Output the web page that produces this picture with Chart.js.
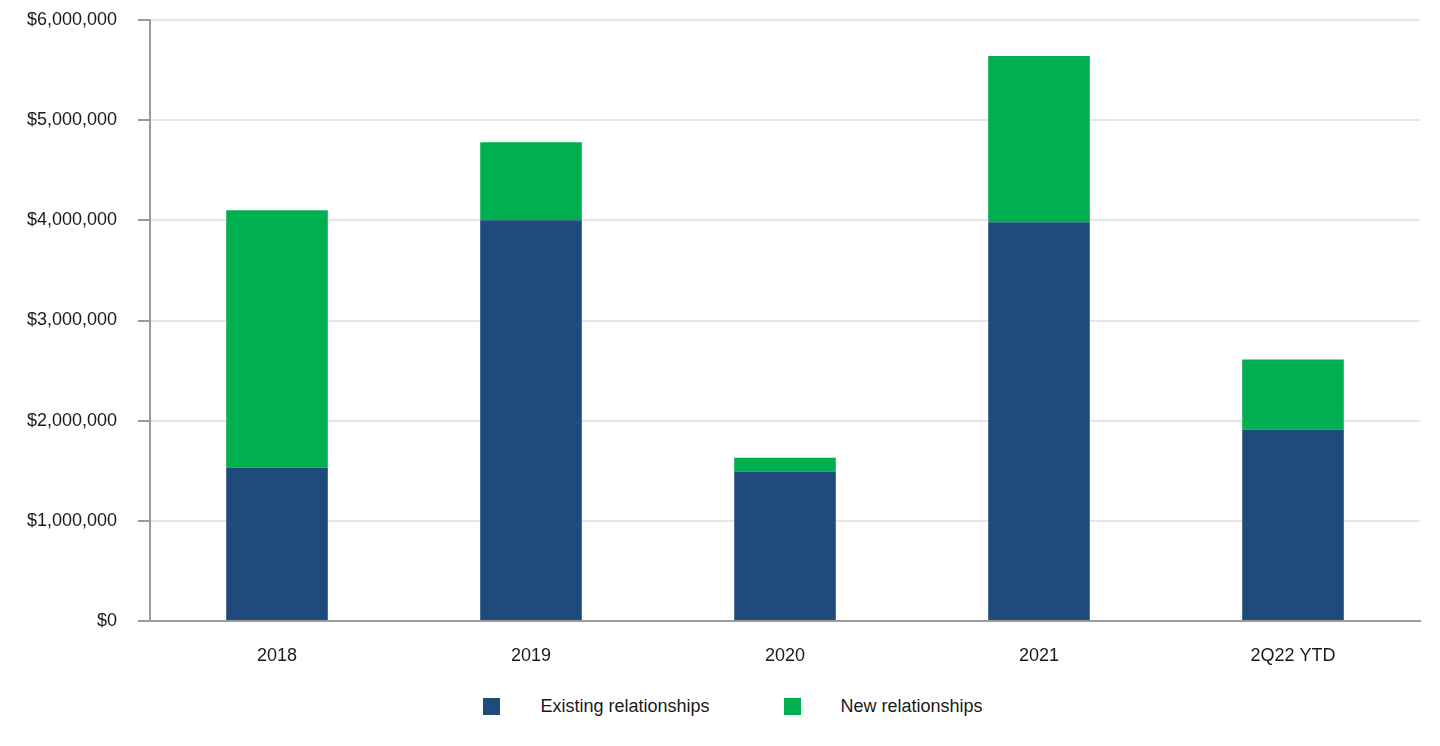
<!DOCTYPE html>
<html>
<head>
<meta charset="utf-8">
<script src="https://cdn.jsdelivr.net/npm/chart.js@4/dist/chart.umd.min.js"></script>
<style>
  body { margin: 0; background: #fff; font-family: "Liberation Sans", Arial, sans-serif; }
  #wrap { position: relative; width: 1440px; height: 746px; }
  #legend { position: absolute; left: 0; top: 696px; width: 1440px; display: flex; justify-content: center; padding-left: 26px; box-sizing: border-box; }
  .item { display: flex; align-items: center; margin: 0 37px; font-size: 18px; color: #1a1a1a; }
  .swatch { width: 17px; height: 17px; margin-right: 40px; }
</style>
</head>
<body>
<div id="wrap">
  <canvas id="barChart" width="1440" height="680"></canvas>
  <div id="legend"></div>
</div>
<script>
// data
var years = ["2018", "2019", "2020", "2021", "2Q22 YTD"];
var existing = [1530000, 4000000, 1490000, 3980000, 1910000];
var newRel = [2570000, 780000, 140000, 1660000, 700000];
var yTicks = [0, 1000000, 2000000, 3000000, 4000000, 5000000, 6000000];

var blue = "#1f4a7c";
var green = "#00b050";
var axisGray = "#9a9a9a";

Chart.defaults.font.family = '"Liberation Sans", Arial, sans-serif';
Chart.defaults.font.size = 18;
Chart.defaults.color = "#1a1a1a";

var ctx = document.getElementById("barChart").getContext("2d");
var barChart = new Chart(ctx, {
  type: "bar",
  data: {
    labels: years,
    datasets: [{
      label: "Existing relationships",
      data: existing,
      backgroundColor: blue,
      barPercentage: 0.8,
      categoryPercentage: 0.5
    }, {
      label: "New relationships",
      data: newRel,
      backgroundColor: green,
      barPercentage: 0.8,
      categoryPercentage: 0.5
    }]
  },
  options: {
    responsive: false,
    animation: false,
    devicePixelRatio: 1,
    layout: { padding: { top: 20, right: 20, left: 0, bottom: 0 } },
    plugins: {
      legend: { display: false },
      tooltip: { enabled: false }
    },
    scales: {
      x: {
        stacked: true,
        grid: { display: false },
        border: { display: true, color: axisGray, width: 2 },
        ticks: { padding: 16 },
        afterFit: function (s) { s.height = 59; }
      },
      y: {
        stacked: true,
        min: 0,
        max: 6000000,
        afterBuildTicks: function (s) {
          s.ticks = yTicks.map(function (v) { return { value: v }; });
        },
        grid: { color: "#e6e6e6", lineWidth: 2, tickColor: axisGray, tickLength: 12 },
        border: { display: true, color: axisGray, width: 2 },
        ticks: {
          padding: 21,
          callback: function (v) { return "$" + Number(v).toLocaleString("en-US"); }
        },
        afterFit: function (s) {
          s.width = 150;
          // let the layout padding alone decide where the top gridline sits
          s.paddingTop = 0;
          s.paddingBottom = 0;
        }
      }
    }
  }
});

// legend built from the chart's datasets
var legend = document.getElementById("legend");
barChart.data.datasets.forEach(function (ds) {
  var item = document.createElement("div");
  item.className = "item";
  var sw = document.createElement("span");
  sw.className = "swatch";
  sw.style.background = ds.backgroundColor;
  var txt = document.createElement("span");
  txt.textContent = ds.label;
  item.appendChild(sw);
  item.appendChild(txt);
  legend.appendChild(item);
});
</script>
</body>
</html>
